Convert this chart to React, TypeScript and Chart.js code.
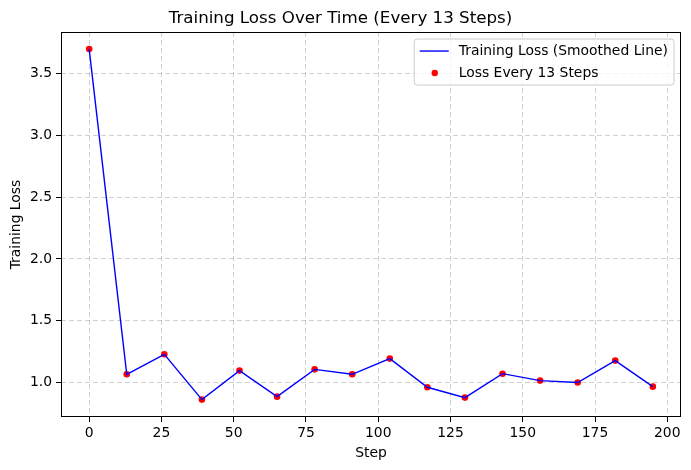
import React, { useEffect, useRef } from "react";
import { Chart, registerables } from "chart.js";

Chart.register(...registerables);

const steps = [0, 13, 26, 39, 52, 65, 78, 91, 104, 117, 130, 143, 156, 169, 182, 195];
const losses = [3.70, 1.065, 1.227, 0.86, 1.095, 0.884, 1.105, 1.065, 1.192, 0.96, 0.876, 1.07, 1.014, 0.998, 1.176, 0.965];
const xTicks = [0, 25, 50, 75, 100, 125, 150, 175, 200];
const yTicks = [1.0, 1.5, 2.0, 2.5, 3.0, 3.5];

const titleText = "Training Loss Over Time (Every 13 Steps)";
const lineLabel = "Training Loss (Smoothed Line)";
const scatterLabel = "Loss Every 13 Steps";
const xTitle = "Step";
const yTitle = "Training Loss";

const FONT = "'DejaVu Sans', sans-serif";

const framePlugin = {
  id: "frame",
  afterDatasetsDraw(chart: any) {
    const { ctx, chartArea } = chart;
    ctx.save();
    ctx.strokeStyle = "#000";
    ctx.lineWidth = 1;
    ctx.strokeRect(
      Math.round(chartArea.left) + 0.5,
      Math.round(chartArea.top) + 0.5,
      Math.round(chartArea.right - chartArea.left) - 1,
      Math.round(chartArea.bottom - chartArea.top) - 1
    );
    ctx.restore();
  },
};

const legendPlugin = {
  id: "mplLegend",
  afterDraw(chart: any) {
    const { ctx, chartArea } = chart;
    const ds = chart.data.datasets;
    ctx.save();
    ctx.font = `13.9px ${FONT}`;
    const w = Math.max(...ds.map((d: any) => ctx.measureText(d.label).width));
    const right = chartArea.right - 7;
    const top = chartArea.top + 7;
    const textOffset = 44.5;
    const left = right - w - textOffset - 6;
    const height = 46;
    const r = 3;
    ctx.beginPath();
    ctx.moveTo(left + r, top);
    ctx.lineTo(right - r, top);
    ctx.quadraticCurveTo(right, top, right, top + r);
    ctx.lineTo(right, top + height - r);
    ctx.quadraticCurveTo(right, top + height, right - r, top + height);
    ctx.lineTo(left + r, top + height);
    ctx.quadraticCurveTo(left, top + height, left, top + height - r);
    ctx.lineTo(left, top + r);
    ctx.quadraticCurveTo(left, top, left + r, top);
    ctx.closePath();
    ctx.fillStyle = "rgba(255,255,255,0.8)";
    ctx.fill();
    ctx.strokeStyle = "#cccccc";
    ctx.lineWidth = 1;
    ctx.stroke();
    const rows = [top + 12, top + 34];
    ctx.strokeStyle = ds[0].borderColor;
    ctx.lineWidth = ds[0].borderWidth;
    ctx.beginPath();
    ctx.moveTo(left + 5.5, rows[0]);
    ctx.lineTo(left + 34.5, rows[0]);
    ctx.stroke();
    ctx.fillStyle = ds[1].pointBackgroundColor;
    ctx.beginPath();
    ctx.arc(left + 20.5, rows[1], 3.2, 0, Math.PI * 2);
    ctx.fill();
    ctx.fillStyle = "#000";
    ctx.textBaseline = "middle";
    ctx.textAlign = "left";
    ctx.fillText(ds[0].label, left + textOffset, rows[0]);
    ctx.fillText(ds[1].label, left + textOffset, rows[1]);
    ctx.restore();
  },
};

const gridOpts = {
  color: "rgba(176,176,176,0.6)",
  lineWidth: 1,
  tickColor: "#000",
  tickLength: 5,
  tickWidth: 1,
  tickBorderDash: [],
};

export default function App() {
  const ref = useRef<HTMLCanvasElement | null>(null);
  useEffect(() => {
    if (!ref.current) return;
    const pts = steps.map((s, i) => ({ x: s, y: losses[i] }));
    const chart = new Chart(ref.current, {
      type: "line",
      data: {
        datasets: [
          {
            label: lineLabel,
            data: pts,
            borderColor: "#0000ff",
            borderWidth: 1.4,
            pointRadius: 0,
            fill: false,
            tension: 0,
            order: 0,
          },
          {
            label: scatterLabel,
            data: pts,
            showLine: false,
            pointRadius: 3.3,
            pointBackgroundColor: "#ff0000",
            pointBorderColor: "#ff0000",
            pointBorderWidth: 0,
            order: 1,
          } as any,
        ],
      },
      options: {
        responsive: false,
        animation: false,
        devicePixelRatio: 1,
        layout: { padding: { left: 0, right: 10, top: 0, bottom: 0 } },
        plugins: {
          legend: { display: false },
          tooltip: { enabled: false },
          title: {
            display: true,
            text: titleText,
            color: "#000",
            font: { family: FONT, size: 16.7, weight: "normal" },
            padding: { top: 9, bottom: 3 },
          },
        },
        scales: {
          x: {
            type: "linear",
            min: -9.75,
            max: 204.75,
            afterBuildTicks: (s: any) => {
              s.ticks = xTicks.map((v) => ({ value: v }));
            },
            afterFit: (s: any) => {
              s.height = 53;
            },
            ticks: {
              color: "#000",
              font: { family: FONT, size: 13.9 },
              padding: 3,
              maxRotation: 0,
              autoSkip: false,
            },
            grid: { ...gridOpts } as any,
            border: { display: false, dash: [5, 3] },
            title: {
              display: true,
              text: xTitle,
              color: "#000",
              font: { family: FONT, size: 13.9 },
              padding: { top: 0, bottom: 8.5 },
            },
          },
          y: {
            type: "linear",
            min: 0.719,
            max: 3.838,
            afterBuildTicks: (s: any) => {
              s.ticks = yTicks.map((v) => ({ value: v }));
            },
            afterFit: (s: any) => {
              s.width = 61;
            },
            ticks: {
              color: "#000",
              font: { family: FONT, size: 13.9 },
              padding: 4,
              autoSkip: false,
              callback: (v: any) => Number(v).toFixed(1),
            },
            grid: { ...gridOpts } as any,
            border: { display: false, dash: [5, 3] },
            title: {
              display: true,
              text: yTitle,
              color: "#000",
              font: { family: FONT, size: 13.9 },
              padding: { top: 8, bottom: 0 },
            },
          },
        },
      },
      plugins: [framePlugin, legendPlugin],
    } as any);
    return () => chart.destroy();
  }, []);
  return (
    <div style={{ position: "absolute", left: 0, top: 0, width: 691, height: 470 }}>
      <canvas ref={ref} width={691} height={470} style={{ width: 691, height: 470, display: "block" }} />
    </div>
  );
}
